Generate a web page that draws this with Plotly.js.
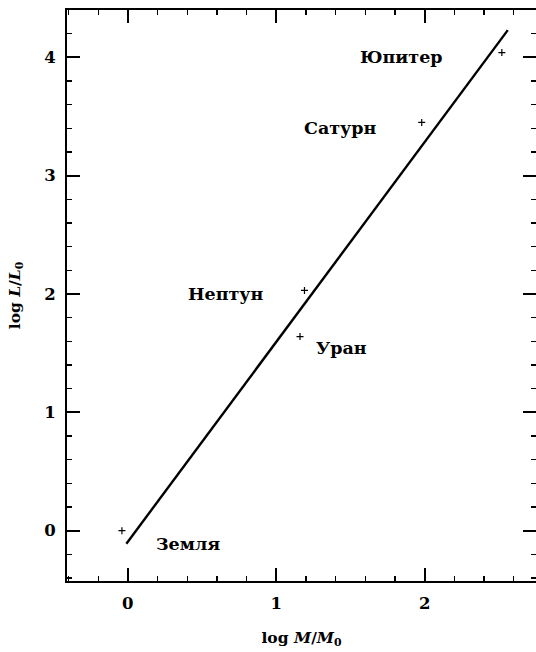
<!DOCTYPE html>
<html><head><meta charset="utf-8">
<script src="https://cdn.plot.ly/plotly-3.0.1.min.js"></script>
<style>html,body{margin:0;padding:0;background:#fff;}</style>
</head><body>
<div id="chart" style="width:536px;height:652px;"></div>
<script>
// Data
const planets = ["Земля", "Уран", "Нептун", "Сатурн", "Юпитер"];
const logM = [-0.04, 1.16, 1.19, 1.98, 2.52];
const logL = [0.0, 1.64, 2.03, 3.45, 4.04];
const fitX = [-0.01, 2.56];
const fitY = [-0.11, 4.23];
const xTicks = [0, 1, 2];
const yTicks = [0, 1, 2, 3, 4];

// label offsets (pixels) relative to each point
const shifts = {
  "Земля": [66, -13],
  "Уран": [41, -11],
  "Нептун": [-78, -4],
  "Сатурн": [-81, -6],
  "Юпитер": [-100, -4]
};

const FONT = "DejaVu Serif";
const traces = [
  {x: fitX, y: fitY, mode: "lines", line: {color: "#000", width: 2.4}, hoverinfo: "skip"},
  {x: logM, y: logL, mode: "markers", marker: {symbol: "cross-thin", size: 5, line: {color: "#000", width: 1.2}}, hoverinfo: "skip"}
];

const annotations = planets.map((p, i) => ({
  x: logM[i], y: logL[i], xref: "x", yref: "y", text: "<b>" + p + "</b>",
  showarrow: false, xshift: shifts[p][0], yshift: shifts[p][1],
  font: {family: FONT, size: 17.5, color: "#000"}
}));

const axisCommon = {
  showgrid: false, zeroline: false, showline: true, linecolor: "#000", linewidth: 2,
  mirror: "allticks", ticks: "inside", ticklen: 13, tickwidth: 2, tickcolor: "#000",
  tickfont: {family: FONT, size: 16.5, color: "#000", weight: "bold"},
  ticklabelstandoff: 6,
  minor: {ticks: "inside", ticklen: 5, tickwidth: 1.3, tickcolor: "#000", dtick: 0.2, showgrid: false},
  fixedrange: true
};

const layout = {
  width: 536, height: 652,
  margin: {l: 67, r: 0, t: 10, b: 71},
  paper_bgcolor: "#fff", plot_bgcolor: "#fff",
  showlegend: false,
  xaxis: Object.assign({}, axisCommon, {
    range: [-0.41, 2.75], tickmode: "array", tickvals: xTicks, ticktext: xTicks.map(String),
    title: {text: "<b>log <i>M</i>/<i>M</i><sub>0</sub></b>", font: {family: FONT, size: 15.5, color: "#000"}, standoff: 20}
  }),
  yaxis: Object.assign({}, axisCommon, {
    range: [-0.425, 4.40], tickmode: "array", tickvals: yTicks, ticktext: yTicks.map(String),
    title: {text: "<b>log <i>L</i>/<i>L</i><sub>0</sub></b>", font: {family: FONT, size: 15.5, color: "#000"}, standoff: 20}
  }),
  annotations: annotations
};

Plotly.newPlot("chart", traces, layout, {displayModeBar: false, staticPlot: true});
</script>
</body></html>
